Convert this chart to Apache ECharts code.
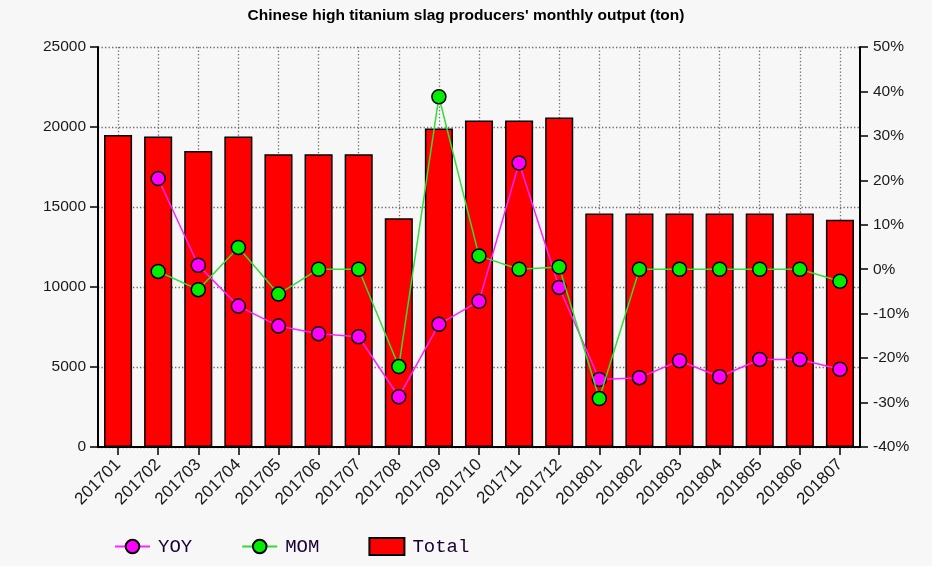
<!DOCTYPE html>
<html>
<head>
<meta charset="utf-8">
<script src="https://cdn.jsdelivr.net/npm/echarts@6/dist/echarts.min.js"></script>
<style>
html,body{margin:0;padding:0;background:#F7F7F7;}
#chart{width:932px;height:566px;}
</style>
</head>
<body>
<div id="chart"></div>
<script>
var categories = ['201701','201702','201703','201704','201705','201706','201707','201708','201709','201710','201711','201712','201801','201802','201803','201804','201805','201806','201807'];
var totalValues = [19500,19400,18500,19400,18300,18300,18300,14300,19900,20400,20400,20600,14600,14600,14600,14600,14600,14600,14200];
var yoyValues = [null,20.4,0.9,-8.3,-12.8,-14.5,-15.2,-28.7,-12.4,-7.2,23.9,-4.1,-24.8,-24.4,-20.6,-24.2,-20.3,-20.3,-22.5];
var momValues = [null,-0.5,-4.6,4.9,-5.6,0,0,-21.9,38.8,3.0,0,0.5,-29.1,0,0,0,0,0,-2.7];
var leftTicks = {min:0, max:25000, interval:5000};
var rightTicks = {min:-40, max:50, interval:10};

var chart = echarts.init(document.getElementById('chart'));
var font = 'Liberation Sans, Arial, sans-serif';
var dotted = {color:'#6a6a6a', width:1.3, type:[1.3,2.2]};
chart.setOption({
  backgroundColor:'#F7F7F7',
  animation:false,
  title:{
    text:"Chinese high titanium slag producers' monthly output (ton)",
    left:'center', top:3,
    textStyle:{fontFamily:font, fontSize:15.5, fontWeight:'bold', color:'#000'}
  },
  legend:{
    left:109, top:532,
    itemWidth:35, itemHeight:17, itemGap:49,
    textStyle:{fontFamily:'Liberation Mono, DejaVu Sans Mono, monospace', fontSize:19, color:'#1a0033', padding:[0,0,0,3]},
    data:[{name:'YOY'},{name:'MOM'},{name:'Total', icon:'rect'}]
  },
  grid:{left:98, right:72, top:47, bottom:119, containLabel:false},
  xAxis:{
    type:'category', data:categories,
    axisLine:{lineStyle:{color:'#000', width:2}},
    axisTick:{show:true, alignWithLabel:true, length:8, lineStyle:{color:'#000', width:1.5}},
    axisLabel:{rotate:45, fontFamily:font, fontSize:17, color:'#1a1a1a', margin:15, interval:0},
    splitLine:{show:true, alignWithLabel:true, lineStyle:dotted}
  },
  yAxis:[{
    type:'value', position:'left', min:leftTicks.min, max:leftTicks.max, interval:leftTicks.interval,
    axisLine:{show:true, lineStyle:{color:'#000', width:2}},
    axisTick:{show:true, length:8, lineStyle:{color:'#000', width:1.5}},
    axisLabel:{fontFamily:font, fontSize:15.5, color:'#1a1a1a', margin:12, formatter:function(v){return String(v);}},
    splitLine:{show:true, lineStyle:dotted}
  },{
    type:'value', position:'right', min:rightTicks.min, max:rightTicks.max, interval:rightTicks.interval,
    axisLine:{show:true, lineStyle:{color:'#000', width:2}},
    axisTick:{show:true, length:8, lineStyle:{color:'#000', width:1.5}},
    axisLabel:{fontFamily:font, fontSize:15.5, color:'#1a1a1a', margin:13, formatter:'{value}%'},
    splitLine:{show:false}
  }],
  series:[{
    name:'Total', type:'bar', yAxisIndex:0, data:totalValues, barWidth:'70%',
    itemStyle:{color:'#FF0000', borderColor:'#000', borderWidth:1.5}
  },{
    name:'YOY', type:'line', yAxisIndex:1, data:yoyValues, z:5,
    symbol:'circle', symbolSize:14, showAllSymbol:true,
    lineStyle:{color:'#FF22FF', width:1.5},
    itemStyle:{color:'#FF00FF', borderColor:'#000', borderWidth:1.5}
  },{
    name:'MOM', type:'line', yAxisIndex:1, data:momValues, z:6,
    symbol:'circle', symbolSize:14, showAllSymbol:true,
    lineStyle:{color:'#33DD33', width:1.5},
    itemStyle:{color:'#00EE00', borderColor:'#000', borderWidth:1.5}
  }]
});
</script>
</body>
</html>
